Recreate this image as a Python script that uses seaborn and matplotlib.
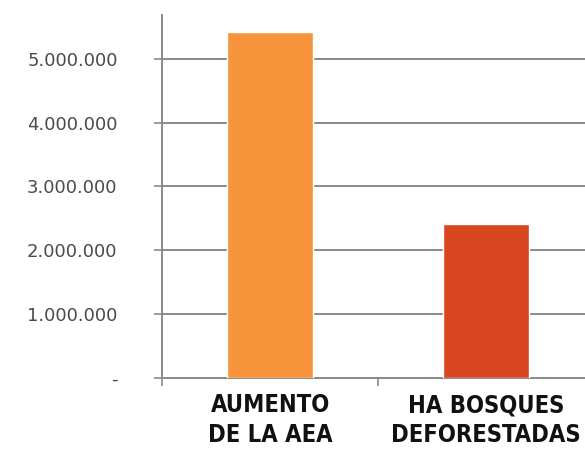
import matplotlib
matplotlib.use("Agg")
import matplotlib.pyplot as plt
import seaborn as sns
import pandas as pd
from matplotlib.ticker import FuncFormatter, MultipleLocator, FixedLocator

categorias = ["AUMENTO\nDE LA AEA", "HA BOSQUES\nDEFORESTADAS"]
valores = [5420000, 2410000]
colores = ["#F7933B", "#D8461F"]

df = pd.DataFrame({"cat": categorias, "valor": valores})

sns.set_theme(style="white")
fig = plt.figure(figsize=(5.85, 4.59), dpi=100)
ax = fig.add_axes([0.277, 0.1765, 0.723, 0.79])

sns.barplot(data=df, x="cat", y="valor", hue="cat", palette=colores,
            width=0.4, saturation=1, legend=False, ax=ax, zorder=3)

ax.set_xlim(-0.5, 1.458)
ax.set_ylim(0, 5680000)
ax.yaxis.set_major_locator(MultipleLocator(1000000))
ax.grid(axis="y", color="#8a8a8a", linewidth=1.4, zorder=0)
ax.set_axisbelow(True)


def fmt(v, pos):
    if v == 0:
        return "-"
    return f"{int(v):,}".replace(",", ".")


ax.yaxis.set_major_formatter(FuncFormatter(fmt))
ax.tick_params(axis="y", length=6, width=1.2, color="#8a8a8a", left=True,
               labelsize=13, labelcolor="#4a4a4a", pad=26)

ax.xaxis.set_minor_locator(FixedLocator([-0.5, 0.5]))
ax.tick_params(axis="x", which="minor", length=6, width=1.2, color="#8a8a8a", bottom=True)
ax.tick_params(axis="x", which="major", length=0, pad=11)
for lab in ax.get_xticklabels():
    lab.set_fontsize(17)
    lab.set_fontweight("bold")
    lab.set_fontstretch("condensed")
    lab.set_color("#111111")
    lab.set_linespacing(1.3)

ax.set_xlabel("")
ax.set_ylabel("")
for s in ["top", "right"]:
    ax.spines[s].set_visible(False)
ax.spines["left"].set_color("#8a8a8a")
ax.spines["bottom"].set_color("#8a8a8a")
ax.spines["left"].set_linewidth(1.4)
ax.spines["bottom"].set_linewidth(1.4)

fig.savefig("out.png", dpi=100)
